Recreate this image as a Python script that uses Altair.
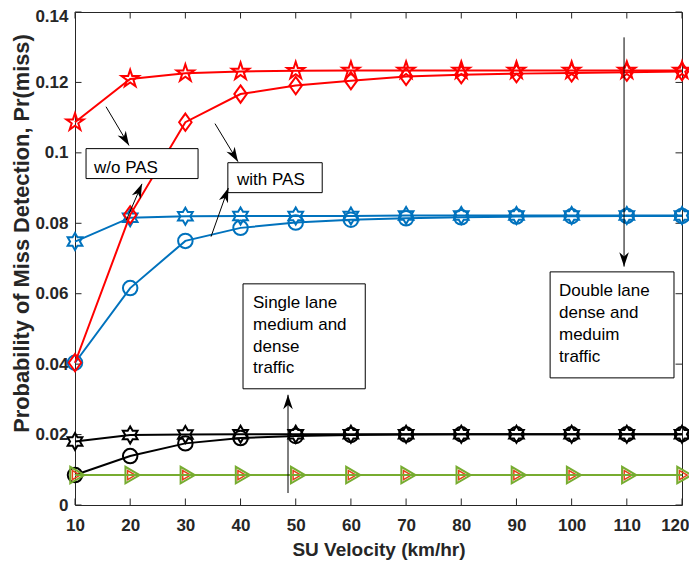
import math
import altair as alt
import pandas as pd

# ---------------- data ----------------
velocity = [10, 20, 30, 40, 50, 60, 70, 80, 90, 100, 110, 120]

red_star = [0.1087, 0.1210, 0.1226, 0.1231, 0.1233, 0.1234, 0.1234, 0.1234, 0.1234, 0.1234, 0.1234, 0.1234]
red_diamond = [0.0404, 0.0824, 0.1087, 0.1167, 0.1191, 0.1205, 0.1217, 0.1222, 0.1225, 0.1227, 0.1229, 0.1231]
blue_star = [0.0748, 0.0816, 0.0820, 0.0821, 0.0821, 0.0821, 0.0822, 0.0822, 0.0822, 0.0822, 0.0822, 0.0822]
blue_circle = [0.0404, 0.0616, 0.0750, 0.0787, 0.0802, 0.0810, 0.0814, 0.0817, 0.0819, 0.0820, 0.0821, 0.0821]
black_star = [0.0180, 0.0199, 0.0200, 0.0201, 0.0201, 0.0201, 0.0201, 0.0201, 0.0201, 0.0201, 0.0201, 0.0201]
black_circle = [0.0085, 0.0139, 0.0175, 0.0190, 0.0196, 0.0199, 0.0200, 0.0201, 0.0201, 0.0201, 0.0201, 0.0201]
orange_tri = [0.0085, 0.0085, 0.0085, 0.0085, 0.0085, 0.0085, 0.0085, 0.0085, 0.0085, 0.0085, 0.0085, 0.0085]
green_tri = [0.0085, 0.0085, 0.0085, 0.0085, 0.0085, 0.0085, 0.0085, 0.0085, 0.0085, 0.0085, 0.0085, 0.0085]

x_ticks = [10, 20, 30, 40, 50, 60, 70, 80, 90, 100, 110, 120]
y_ticks = [0, 0.02, 0.04, 0.06, 0.08, 0.1, 0.12, 0.14]

# annotation boxes
box_x1 = [12.0, 37.7, 40.45, 96.1]
box_x2 = [32.3, 54.8, 62.6, 118.55]
box_y1 = [0.0927, 0.0887, 0.0330, 0.0361]
box_y2 = [0.1012, 0.0972, 0.0628, 0.0662]

# annotation text lines
txt_label = ["w/o PAS", "with PAS", "Single lane", "medium and", "dense", "traffic",
             "Double lane", "dense and", "meduim", "traffic"]
txt_x = [13.44, 39.36, 42.26, 42.26, 42.26, 42.26, 97.71, 97.71, 97.71, 97.71]
txt_y = [0.0958, 0.0924, 0.0574, 0.0512, 0.0450, 0.0388, 0.0608, 0.0546, 0.0482, 0.0419]

# arrows (start -> tip)
arr_x1 = [15.62, 19.24, 35.37, 34.65, 48.6, 109.5]
arr_y1 = [0.1131, 0.0807, 0.1083, 0.0762, 0.0034, 0.1328]
arr_x2 = [19.79, 22.14, 39.54, 37.78, 48.6, 109.5]
arr_y2 = [0.1021, 0.0912, 0.0975, 0.0900, 0.0313, 0.0677]

# ---------------- styles ----------------
W, H = 607, 493
XMIN, XMAX, YMIN, YMAX = 10, 120, 0, 0.14
FONT = "Liberation Sans"
AX = "#262626"
TICK_PX = 6.5

PENTAGRAM = ("M0,-1 L0.225,-0.309 L0.951,-0.309 L0.363,0.118 L0.588,0.809 L0,0.382 "
             "L-0.588,0.809 L-0.363,0.118 L-0.951,-0.309 L-0.225,-0.309 Z")
HEXAGRAM = ("M0,-1 L0.289,-0.5 L0.866,-0.5 L0.577,0 L0.866,0.5 L0.289,0.5 L0,1 "
            "L-0.289,0.5 L-0.866,0.5 L-0.577,0 L-0.866,-0.5 L-0.289,-0.5 Z")
DIAMOND = "M0,-1 L0.72,0 L0,1 L-0.72,0 Z"
TRI_RIGHT = "M1,0 L-0.5,-0.866 L-0.5,0.866 Z"
ARROWHEAD = "M0,0 L0.4,1.2 L0,0.85 L-0.4,1.2 Z"

xs = alt.Scale(domain=[XMIN, XMAX], nice=False, zero=False)
ys = alt.Scale(domain=[YMIN, YMAX], nice=False, zero=False)

x_axis = alt.Axis(title="SU Velocity (km/hr)", values=x_ticks, grid=False, domain=False,
                  ticks=False, tickSize=0, labelFont=FONT, labelFontSize=17,
                  labelFontWeight="bold", labelColor=AX, labelPadding=12,
                  labelFlush=False, labelOverlap=False,
                  labelAlign={"condition": {"test": "datum.value == 120", "value": "right"},
                              "value": "center"},
                  labelOffset={"condition": {"test": "datum.value == 120", "value": 7},
                               "value": 0},
                  titleFont=FONT, titleFontSize=19, titleFontWeight="bold",
                  titleColor=AX, titleY=50, titleBaseline="alphabetic")
y_axis = alt.Axis(title="Probability of Miss Detection, Pr(miss)", values=y_ticks,
                  format="~g", grid=False, domain=False, ticks=False, tickSize=0,
                  labelFont=FONT, labelFontSize=17, labelFontWeight="bold",
                  labelColor=AX, labelPadding=7, labelFlush=False, labelOverlap=False,
                  labelOffset={"condition": {"test": "datum.value >= 0.139", "value": 4.5},
                               "value": 0},
                  titleFont=FONT, titleFontSize=21.8, titleFontWeight="bold",
                  titleColor=AX, titleAngle=270, titleX=-47, titleY=221,
                  titleAlign="center", titleBaseline="alphabetic")


def X(f):
    return alt.X(f"{f}:Q", scale=xs, axis=x_axis)


def Y(f):
    return alt.Y(f"{f}:Q", scale=ys, axis=y_axis)


layers = []

# inward ticks on all four sides
tx = TICK_PX * (XMAX - XMIN) / W
ty = TICK_PX * (YMAX - YMIN) / H
tick_rows = []
for v in x_ticks:
    tick_rows.append({"a": v, "b": YMIN, "c": v, "d": YMIN + ty})
    tick_rows.append({"a": v, "b": YMAX, "c": v, "d": YMAX - ty})
for v in y_ticks:
    tick_rows.append({"a": XMIN, "b": v, "c": XMIN + tx, "d": v})
    tick_rows.append({"a": XMAX, "b": v, "c": XMAX - tx, "d": v})
layers.append(
    alt.Chart(pd.DataFrame(tick_rows)).mark_rule(color=AX, strokeWidth=1).encode(
        x=X("a"), y=Y("b"), x2="c:Q", y2="d:Q")
)

series = [
    (black_circle, "#000000", "circle", 210, 2),
    (black_star, "#000000", HEXAGRAM, 289, 2),
    (blue_circle, "#0072BD", "circle", 210, 2),
    (blue_star, "#0072BD", HEXAGRAM, 289, 2),
    (red_diamond, "#FF0000", DIAMOND, 300, 2),
    (red_star, "#FF0000", PENTAGRAM, 330, 2),
    (orange_tri, "#E8401C", TRI_RIGHT, 110, 1.5),
    (green_tri, "#77AC30", TRI_RIGHT, 361, 2),
]
for vals, color, shape, size, sw in series:
    df = pd.DataFrame({"v": velocity, "p": vals})
    layers.append(
        alt.Chart(df).mark_line(
            color=color, strokeWidth=2,
            point=alt.OverlayMarkDef(shape=shape, size=size, filled=False,
                                     color=color, strokeWidth=sw)
        ).encode(x=X("v"), y=Y("p"))
    )

# boxes
box_df = pd.DataFrame({"x1": box_x1, "x2": box_x2, "y1": box_y1, "y2": box_y2})
layers.append(
    alt.Chart(box_df).mark_rect(fill="white", stroke="black", strokeWidth=1).encode(
        x=X("x1"), x2="x2:Q", y=Y("y1"), y2="y2:Q")
)

# texts
txt_df = pd.DataFrame({"t": txt_label, "x": txt_x, "y": txt_y})
layers.append(
    alt.Chart(txt_df).mark_text(align="left", baseline="middle", font=FONT,
                                fontSize=17, color="black").encode(
        x=X("x"), y=Y("y"), text="t:N")
)

# arrows
pxx = W / (XMAX - XMIN)
pxy = H / (YMAX - YMIN)
angles = []
for a, b, c, d in zip(arr_x1, arr_y1, arr_x2, arr_y2):
    dx = (c - a) * pxx
    dy = -(d - b) * pxy
    angles.append(math.degrees(math.atan2(dx, -dy)) % 360)
arr_df = pd.DataFrame({"x1": arr_x1, "y1": arr_y1, "x2": arr_x2, "y2": arr_y2, "ang": angles})
layers.append(
    alt.Chart(arr_df).mark_rule(color="black", strokeWidth=1).encode(
        x=X("x1"), y=Y("y1"), x2="x2:Q", y2="y2:Q")
)
layers.append(
    alt.Chart(arr_df).mark_point(shape=ARROWHEAD, size=576, filled=True, color="black",
                                 opacity=1, strokeWidth=0).encode(
        x=X("x2"), y=Y("y2"), angle=alt.Angle("ang:Q", scale=None))
)

chart = alt.layer(*layers).properties(
    width=W, height=H,
    padding={"left": 67, "top": 4, "right": 7, "bottom": 55},
    autosize=alt.AutoSizeParams(type="none"),
    background="white",
).configure_view(stroke=AX, strokeWidth=1)

chart.save("out.html", embed_options={"renderer": "svg", "actions": False})
